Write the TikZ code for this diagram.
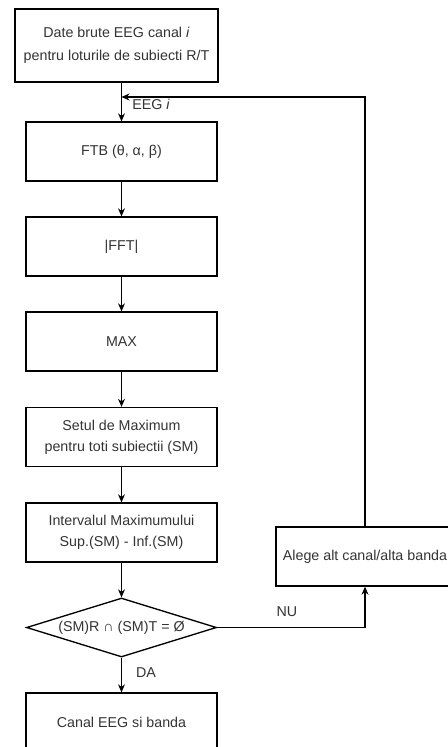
\documentclass[tikz,border=0pt]{standalone}
\usepackage{fontspec}
\setmainfont{Liberation Sans}
\usetikzlibrary{shapes.geometric,arrows.meta}
\begin{document}
\begin{tikzpicture}[x=0.75pt,y=-0.75pt,
  txt/.style={text=black!80,font=\fontsize{10.7}{15.5}\selectfont,align=center},
  procbox/.style={txt,draw=black,line width=1pt,minimum width=143.25pt,minimum height=44.25pt,inner sep=0pt},
  decision/.style={draw=black,line width=1pt,diamond,minimum width=142.5pt,minimum height=44.25pt,inner sep=0pt},
  arr/.style={draw=black,line width=0.8pt,-{Stealth[length=6pt,width=5.2pt]}},
  lbl/.style={txt,inner sep=0pt}]
\useasboundingbox (0,0) rectangle (448,747);
\clip (0,0) rectangle (448,747);

% main chain of processing steps
\node[procbox,minimum width=152.25pt,minimum height=54.75pt,font=\fontsize{10.7}{17}\selectfont] (raw) at (116.5,45.5)
  {Date brute EEG canal \textit{i}\\pentru loturile de subiecti R/T};
\node[procbox] (ftb) at (121.5,151.5) {FTB (θ, α, β)};
\node[procbox] (fft) at (121.5,246.5) {|FFT|};
\node[procbox] (max) at (121.5,341.5) {MAX};
\node[procbox] (set) at (121.5,437) {Setul de Maximum\\pentru toti subiectii (SM)};
\node[procbox] (intv) at (121.5,532.5) {Intervalul Maximumului\\Sup.(SM) - Inf.(SM)};
\node[decision] (dia) at (121.5,627.5) {};
\node[lbl] (diatext) at (dia.center) {(SM)R ∩ (SM)T = Ø};
\node[procbox] (out) at (121.5,722.5) {Canal EEG si banda};
\node[procbox,minimum width=133.5pt] (alt) at (365,556.5) {Alege alt canal/alta banda};

% connectors
\coordinate (join) at (121.5,97);
\draw[arr] (raw.south -| ftb.north) -- (ftb.north);
\draw[arr] (ftb) -- (fft);
\draw[arr] (fft) -- (max);
\draw[arr] (max) -- (set);
\draw[arr] (set) -- (intv);
\draw[arr] (intv) -- (dia);
\draw[arr] (dia) -- (out);
\draw[arr] (dia.east) -| (alt.south);
\draw[arr] (alt.north) |- (join);

% connector labels
\node[lbl,anchor=west] (eeg) at (132,104) {EEG \textit{i}};
\node[lbl] (nu) at (287,612) {NU};
\node[lbl] (da) at (146,673) {DA};
\end{tikzpicture}
\end{document}
